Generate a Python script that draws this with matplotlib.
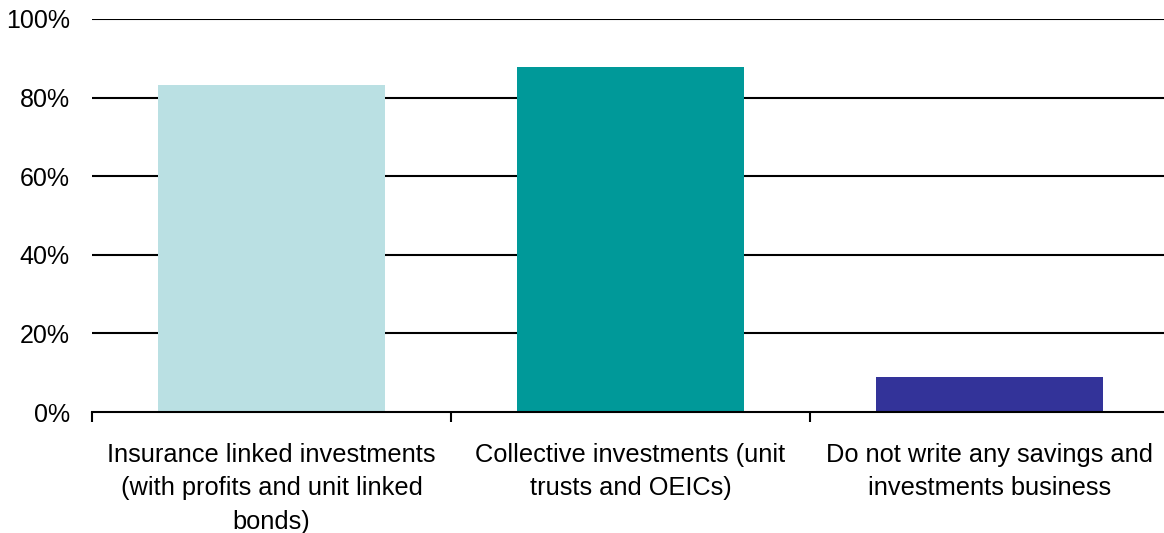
import matplotlib.pyplot as plt
import matplotlib.ticker as ticker

categories = [
    "Insurance linked investments\n(with profits and unit linked\nbonds)",
    "Collective investments (unit\ntrusts and OEICs)",
    "Do not write any savings and\ninvestments business",
]
shares = [83.2, 87.8, 8.9]
bar_colors = ["#BAE0E3", "#009999", "#333399"]
y_ticks = [0, 20, 40, 60, 80, 100]

plt.rcParams['font.family'] = ['Liberation Sans', 'DejaVu Sans']

fig = plt.figure(figsize=(11.64, 5.33), dpi=100)
ax = fig.add_axes([92 / 1164, 121 / 533, 1077 / 1164, 393 / 533])

x = range(len(categories))
ax.bar(x, shares, width=0.63, color=bar_colors, zorder=3)

# horizontal reference lines behind the bars
for t in y_ticks[1:]:
    ax.axhline(t, color='black', linewidth=1.5, zorder=1)

ax.set_xlim(-0.5, 2.5)
ax.set_ylim(0, 100)
ax.set_yticks(y_ticks)
ax.yaxis.set_major_formatter(ticker.FuncFormatter(lambda v, pos: f"{int(v)}%"))
ax.tick_params(axis='y', length=0, pad=16, labelsize=18)

ax.set_xticks(x)
ax.set_xticklabels(categories, fontsize=18.3, linespacing=1.5)
ax.set_xticks([-0.5, 0.5, 1.5], minor=True)
ax.tick_params(axis='x', which='major', length=0, pad=22)
ax.tick_params(axis='x', which='minor', length=7, width=1.5, direction='out')

for side in ['left', 'right', 'top']:
    ax.spines[side].set_visible(False)
ax.spines['bottom'].set_linewidth(1.5)
ax.spines['bottom'].set_zorder(4)

fig.savefig('out.png', dpi=100)
